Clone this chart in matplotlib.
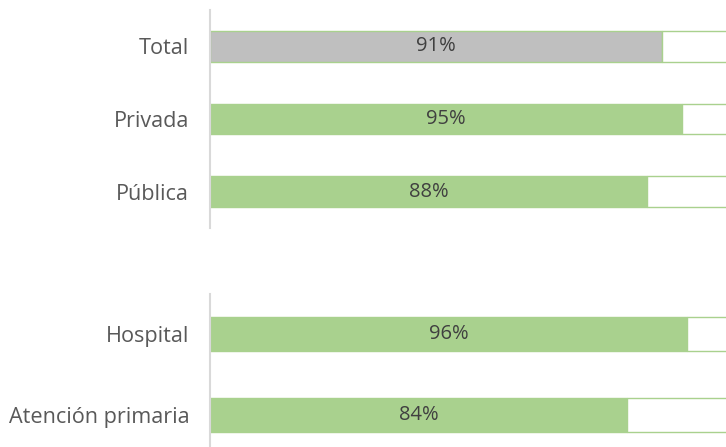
import matplotlib.pyplot as plt

# Data
top_labels = ['Total', 'Privada', 'Pública']
top_values = [0.91, 0.95, 0.88]
bottom_labels = ['Hospital', 'Atención primaria']
bottom_values = [0.96, 0.84]

green = '#A9D18E'
grey = '#BFBFBF'
W, H = 726, 447

fig = plt.figure(figsize=(W / 100, H / 100), dpi=100)
plt.rcParams['font.family'] = ['Open Sans', 'DejaVu Sans']


def draw_group(ax, labels, values, colors, bar_h):
    pos = range(len(labels))
    # filled part
    ax.barh(pos, values, height=bar_h, color=colors, edgecolor=green, linewidth=1)
    # remaining part (white box, runs off the right edge)
    rest = [1.1 - v for v in values]
    ax.barh(pos, rest, left=values, height=bar_h, color='white',
            edgecolor=green, linewidth=1)
    for p, v in zip(pos, values):
        ax.text(v / 2, p, f'{round(v * 100)}%', ha='center', va='center',
                fontsize=14.5, color='#404040')
    ax.set_yticks(list(pos))
    ax.set_yticklabels(labels, fontsize=15.6, color='#595959')
    ax.tick_params(axis='y', length=0, pad=15)
    ax.set_xticks([])
    ax.set_xlim(0, 516 / 497)
    ax.set_ylim(len(labels) - 0.5, -0.5)
    for s in ['top', 'right', 'bottom']:
        ax.spines[s].set_visible(False)
    ax.spines['left'].set_color('#D9D9D9')
    ax.spines['left'].set_linewidth(1.5)


left = 210 / W
width = (W - 210) / W

ax1 = fig.add_axes([left, 1 - 228 / H, width, 218 / H])
draw_group(ax1, top_labels, top_values, [grey, green, green], 0.425)

ax2 = fig.add_axes([left, 1 - 455.5 / H, width, 161.5 / H])
draw_group(ax2, bottom_labels, bottom_values, [green, green], 0.42)

fig.savefig('out.png', dpi=100)
